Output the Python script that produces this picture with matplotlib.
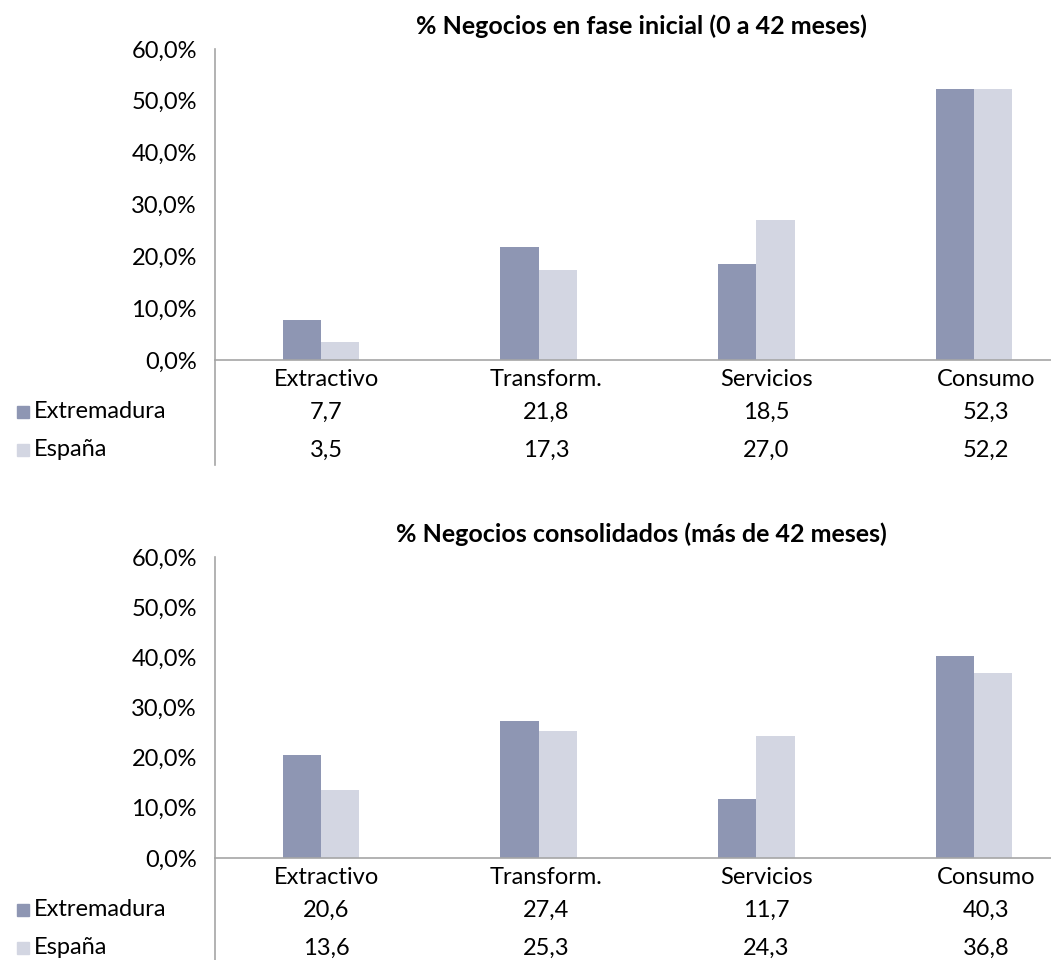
"""
Negocios por sector: Extremadura vs España (fase inicial / consolidados)
"""
import matplotlib
matplotlib.use("Agg")
import matplotlib.pyplot as plt
from matplotlib.transforms import blended_transform_factory

plt.rcParams["font.family"] = ["Lato", "DejaVu Sans"]

SECTORS = ["Extractivo", "Transform.", "Servicios", "Consumo"]
SERIES = ["Extremadura", "España"]

initial_extremadura = [7.7, 21.8, 18.5, 52.3]
initial_espana = [3.5, 17.3, 27.0, 52.2]

consolidated_extremadura = [20.6, 27.4, 11.7, 40.3]
consolidated_espana = [13.6, 25.3, 24.3, 36.8]

TITLES = [
    "% Negocios en fase inicial (0 a 42 meses)",
    "% Negocios consolidados (más de 42 meses)",
]
YTICKS = [0, 10, 20, 30, 40, 50, 60]

COLORS = ["#8E96B3", "#D3D6E2"]
GRID = "#A6A6A6"
W, H = 1051, 960
FS = 17


def fmt(v, dec=1):
    return f"{v:.{dec}f}".replace(".", ",")


def draw_panel(fig, rect, title, values):
    ax = fig.add_axes(rect)
    h_px = rect[3] * H
    width = 0.175
    for k, (vals, color) in enumerate(zip(values, COLORS)):
        xs = [i - width / 2 + k * width for i in range(len(SECTORS))]
        ax.bar(xs, vals, width=width, color=color, linewidth=0)

    ax.set_xlim(-0.485, 3.352)
    ax.set_ylim(0, 60)
    ax.set_yticks(YTICKS)
    ax.set_yticklabels([fmt(v) + "%" for v in YTICKS], fontsize=FS)
    ax.tick_params(axis="y", length=0, pad=13)
    ax.set_xticks([])
    for s in ["top", "right"]:
        ax.spines[s].set_visible(False)
    for s in ["left", "bottom"]:
        ax.spines[s].set_color(GRID)
        ax.spines[s].set_linewidth(1.2)

    # spine running down through the data table
    table_bottom = -105 / h_px
    ax.plot([0, 0], [0, table_bottom], color=GRID, lw=1.2,
            transform=ax.transAxes, clip_on=False)

    ax.set_title(title, fontsize=18, fontweight="bold", pad=11, x=0.51)

    # data table
    rows = [-19 / h_px, -52 / h_px, -90 / h_px]
    tr = blended_transform_factory(ax.transData, ax.transAxes)
    for i, name in enumerate(SECTORS):
        xc = i + 0.025 + 0.01 * i
        ax.text(xc, rows[0], name, ha="center", va="center",
                fontsize=FS, transform=tr)
        for k, vals in enumerate(values):
            ax.text(xc, rows[k + 1], fmt(vals[i]), ha="center",
                    va="center", fontsize=FS, transform=tr)

    tl = blended_transform_factory(fig.transFigure, ax.transAxes)
    for k, name in enumerate(SERIES):
        ax.plot([23 / W], [rows[k + 1]], marker="s", ms=9,
                color=COLORS[k], transform=tl, clip_on=False)
        ax.text(34 / W, rows[k + 1], name, ha="left", va="center",
                fontsize=FS, transform=tl)
    return ax


fig = plt.figure(figsize=(W / 100, H / 100), dpi=100)
left = 215 / W
width = 1 - left

draw_panel(fig, [left, 1 - 360 / H, width, 311 / H], TITLES[0],
           [initial_extremadura, initial_espana])
draw_panel(fig, [left, 1 - 858 / H, width, 301 / H], TITLES[1],
           [consolidated_extremadura, consolidated_espana])

fig.savefig("out.png", dpi=100)
